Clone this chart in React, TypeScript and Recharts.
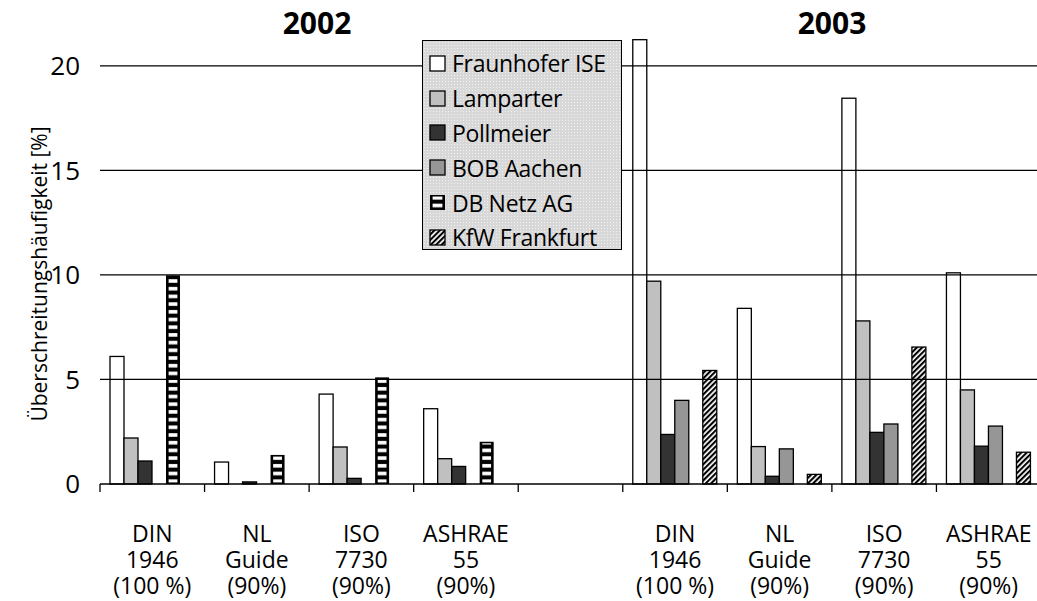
import React from 'react';
import { BarChart, Bar, XAxis, YAxis, ReferenceLine, Legend } from 'recharts';

// categories (the 5th one is the empty spacer between the two years)
const categories = [
  'DIN-2002', 'NL-2002', 'ISO-2002', 'ASHRAE-2002', 'spacer',
  'DIN-2003', 'NL-2003', 'ISO-2003', 'ASHRAE-2003',
];
const categoryLabels: string[][] = [
  ['DIN', '1946', '(100 %)'],
  ['NL', 'Guide', '(90%)'],
  ['ISO', '7730', '(90%)'],
  ['ASHRAE', '55', '(90%)'],
  [],
  ['DIN', '1946', '(100 %)'],
  ['NL', 'Guide', '(90%)'],
  ['ISO', '7730', '(90%)'],
  ['ASHRAE', '55', '(90%)'],
];
const yearTitles = ['2002', '2003'];
const yTicks = [0, 5, 10, 15, 20];
const yLabel = 'Überschreitungshäufigkeit [%]';

// Überschreitungshäufigkeit [%]
const fraunhoferIse = [6.1, 1.05, 4.3, 3.6, 0, 21.25, 8.4, 18.45, 10.1];
const lamparter = [2.2, 0, 1.77, 1.21, 0, 9.7, 1.79, 7.8, 4.5];
const pollmeier = [1.1, 0.1, 0.27, 0.84, 0, 2.37, 0.37, 2.47, 1.81];
const bobAachen = [0, 0, 0, 0, 0, 4.0, 1.68, 2.87, 2.77];
const dbNetz = [9.98, 1.39, 5.1, 2.02, 0, 0, 0, 0, 0];
const kfwFrankfurt = [0, 0, 0, 0, 0, 5.43, 0.46, 6.55, 1.52];

type Kind = 'solid' | 'stripes' | 'hatch';

const SERIES: { key: string; name: string; fill: string; kind: Kind }[] = [
  { key: 'fraunhofer', name: 'Fraunhofer ISE', fill: '#ffffff', kind: 'solid' },
  { key: 'lamparter', name: 'Lamparter', fill: '#c0c0c0', kind: 'solid' },
  { key: 'pollmeier', name: 'Pollmeier', fill: '#333333', kind: 'solid' },
  { key: 'bob', name: 'BOB Aachen', fill: '#969696', kind: 'solid' },
  { key: 'dbnetz', name: 'DB Netz AG', fill: '#000000', kind: 'stripes' },
  { key: 'kfw', name: 'KfW Frankfurt', fill: '#000000', kind: 'hatch' },
];

const data = categories.map((category, i) => ({
  category,
  fraunhofer: fraunhoferIse[i],
  lamparter: lamparter[i],
  pollmeier: pollmeier[i],
  bob: bobAachen[i],
  dbnetz: dbNetz[i],
  kfw: kfwFrankfurt[i],
}));

const FONT = '"Open Sans", sans-serif';

function Patterns({ suffix }: { suffix: string }) {
  return (
    <defs>
      <pattern id={'hstripes' + suffix} width={8} height={7.7} patternUnits="userSpaceOnUse">
        <rect x={0} y={0} width={8} height={7.7} fill="#000" />
        <rect x={0} y={2} width={8} height={3.6} fill="#fff" />
      </pattern>
      <pattern
        id={'hatch' + suffix}
        width={3.8}
        height={3.8}
        patternUnits="userSpaceOnUse"
        patternTransform="rotate(45)"
      >
        <rect x={0} y={0} width={3.8} height={3.8} fill="#fff" />
        <rect x={0} y={0} width={2.1} height={3.8} fill="#000" />
      </pattern>
    </defs>
  );
}

function drawBar(x: number, y: number, w: number, h: number, fill: string, kind: Kind, suffix: string) {
  if (!h || h <= 0) return <g />;
  if (kind === 'stripes') {
    return (
      <g>
        <rect x={x} y={y} width={w} height={h} fill="#000" />
        {h > 3 && (
          <rect x={x + 2.6} y={y + 1.5} width={w - 5.2} height={h - 3} fill={`url(#hstripes${suffix})`} />
        )}
      </g>
    );
  }
  const f = kind === 'hatch' ? `url(#hatch${suffix})` : fill;
  return <rect x={x} y={y} width={w} height={h} fill={f} stroke="#000" strokeWidth={1.3} />;
}

const makeShape = (fill: string, kind: Kind) => (props: any) =>
  drawBar(props.x, props.y, props.width, props.height, fill, kind, '');

function CategoryTick(props: any) {
  const { x, y, payload } = props;
  const idx = categories.indexOf(payload.value);
  const half = payload.offset ?? 52.3;
  const lines = categoryLabels[idx] || [];
  return (
    <g>
      <line x1={x - half} x2={x - half} y1={y} y2={y + 8} stroke="#000" strokeWidth={1.3} />
      {lines.map((l, i) => (
        <text
          key={i}
          x={x}
          y={y + 58 + i * 26}
          textAnchor="middle"
          fontSize={23}
          fill="#000"
          fontFamily={FONT}
        >
          {l}
        </text>
      ))}
    </g>
  );
}

function renderLegend(props: any) {
  const payload = props.payload || [];
  const ordered = SERIES.map((s) => payload.find((p: any) => p.dataKey === s.key)).filter(Boolean);
  return (
    <div
      style={{
        width: 200,
        height: 210,
        boxSizing: 'border-box',
        border: '1px solid #000',
        backgroundColor: '#d8d8d8',
        backgroundImage: 'radial-gradient(circle, #f0f0f0 0.7px, transparent 1px)',
        backgroundSize: '3px 3px',
        padding: '5px 0 0 6px',
        fontFamily: FONT,
      }}
    >
      {ordered.map((entry: any) => {
        const s = SERIES.find((d) => d.key === entry.dataKey) || SERIES[0];
        return (
          <div key={s.key} style={{ display: 'flex', alignItems: 'center', height: 34.8 }}>
            <svg width={17} height={17} style={{ flex: 'none' }}>
              <Patterns suffix={'-lg-' + s.key} />
              {drawBar(1, 1, 15, 15, s.fill, s.kind, '-lg-' + s.key)}
            </svg>
            <span style={{ marginLeft: 6, fontSize: 23, color: '#000', whiteSpace: 'nowrap', letterSpacing: -0.3 }}>
              {entry.value}
            </span>
          </div>
        );
      })}
    </div>
  );
}

export default function App() {
  return (
    <div
      style={{
        position: 'absolute',
        left: 0,
        top: 0,
        width: 1037,
        height: 601,
        background: '#fff',
        fontFamily: FONT,
        overflow: 'hidden',
      }}
    >
      <BarChart
        width={1037}
        height={601}
        data={data}
        margin={{ top: 24, right: -4, bottom: 0, left: 0 }}
        barGap={0}
        barSize={14}
      >
        <Patterns suffix="" />
        {yTicks
          .filter((t) => t > 0)
          .map((t) => (
            <ReferenceLine key={t} y={t} stroke="#000" strokeWidth={1.2} />
          ))}
        <XAxis
          dataKey="category"
          interval={0}
          height={117}
          tickSize={0}
          tickMargin={0}
          tickLine={false}
          axisLine={{ stroke: '#000', strokeWidth: 1.3 }}
          tick={<CategoryTick />}
        />
        <YAxis
          domain={[0, 22]}
          ticks={yTicks}
          width={100}
          axisLine={false}
          tickLine={false}
          tickSize={0}
          tickMargin={20}
          tick={{ fontSize: 26, fill: '#000', fontFamily: FONT }}
        />
        <Legend
          layout="vertical"
          align="center"
          verticalAlign="middle"
          content={renderLegend}
          wrapperStyle={{ left: 422, top: 40, width: 200, height: 210 }}
        />
        {SERIES.map((s) => (
          <Bar
            key={s.key}
            dataKey={s.key}
            name={s.name}
            fill={s.fill}
            stroke="#000"
            isAnimationActive={false}
            shape={makeShape(s.fill, s.kind)}
          />
        ))}
      </BarChart>
      <svg
        width={1037}
        height={601}
        style={{ position: 'absolute', left: 0, top: 0, pointerEvents: 'none' }}
      >
        <text
          x={39}
          y={274}
          transform="rotate(-90, 39, 274)"
          textAnchor="middle"
          dominantBaseline="central"
          fontSize={21}
          fill="#000"
          fontFamily={FONT}
        >
          {yLabel}
        </text>
        <text x={317} y={34} textAnchor="middle" fontSize={30} fontWeight="bold" fill="#000" fontFamily={FONT}>
          {yearTitles[0]}
        </text>
        <text x={832} y={34} textAnchor="middle" fontSize={30} fontWeight="bold" fill="#000" fontFamily={FONT}>
          {yearTitles[1]}
        </text>
      </svg>
    </div>
  );
}
